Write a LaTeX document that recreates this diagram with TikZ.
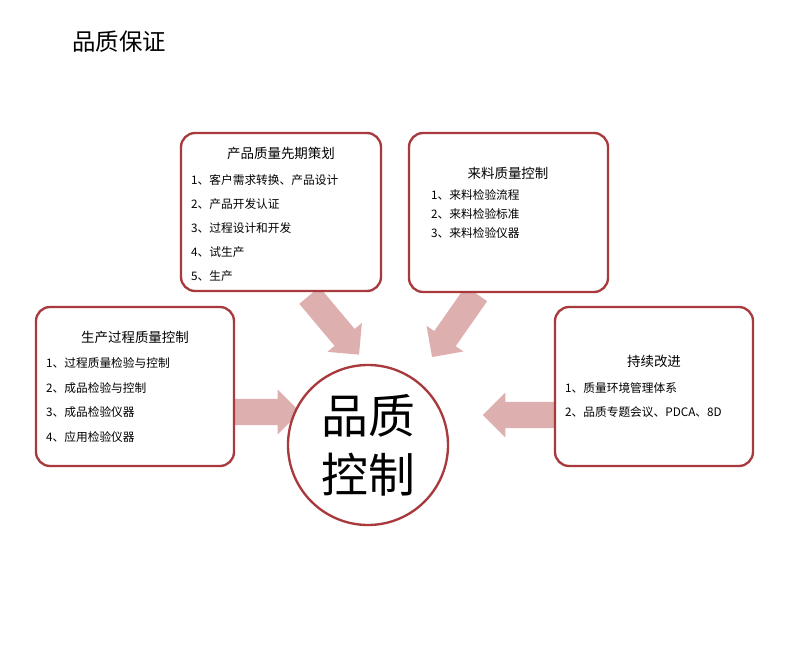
\documentclass[tikz,border=0pt]{standalone}
\usepackage{fontspec}
\setmainfont{Noto Sans CJK SC}
\usetikzlibrary{shapes.arrows}
\definecolor{BoxRed}{HTML}{A83A3E}
\definecolor{ArrowPink}{HTML}{DDAFAF}
\tikzset{
  infobox/.style={draw=BoxRed, line width=2pt, rounded corners=12pt, fill=white},
  boxtitle/.style={font=\fontsize{11.5}{13}\selectfont},
  boxitem/.style={anchor=west, font=\fontsize{10}{12}\selectfont},
  blockarrow/.style={single arrow, fill=ArrowPink, draw=none, minimum height=66pt, single arrow head extend=8pt, inner sep=11pt}
}
\begin{document}
\begin{tikzpicture}[x=0.03cm, y=-0.03cm]
  \useasboundingbox (0,0) rectangle (800,650);
  \node[anchor=west, font=\fontsize{20}{22}\selectfont] (title) at (68,42) {品质保证};

  % arrows first, boxes on top
  \node[blockarrow, rotate=-50] (arrowtl) at (330,320) {};
  \node[blockarrow, rotate=-125] (arrowtr) at (458,320) {};
  \node[blockarrow, rotate=0] (arrowl) at (255,412) {};
  \node[blockarrow, rotate=180] (arrowr) at (528,415) {};

  % planning
  \draw[infobox] (181,133) rectangle (381,291);
  \node[boxtitle] (plan) at (281,153) {产品质量先期策划};
  \node[boxitem] (plan1) at (187,180) {1、客户需求转换、产品设计};
  \node[boxitem] (plan2) at (187,204) {2、产品开发认证};
  \node[boxitem] (plan3) at (187,228) {3、过程设计和开发};
  \node[boxitem] (plan4) at (187,252) {4、试生产};
  \node[boxitem] (plan5) at (187,276) {5、生产};

  % incoming
  \draw[infobox] (409,133) rectangle (608,292);
  \node[boxtitle] (incoming) at (508,173) {来料质量控制};
  \node[boxitem] (incoming1) at (427,195) {1、来料检验流程};
  \node[boxitem] (incoming2) at (427,214) {2、来料检验标准};
  \node[boxitem] (incoming3) at (427,233) {3、来料检验仪器};

  % production
  \draw[infobox] (36,307) rectangle (234,466);
  \node[boxtitle] (process) at (135,337) {生产过程质量控制};
  \node[boxitem] (process1) at (42,363) {1、过程质量检验与控制};
  \node[boxitem] (process2) at (42,388) {2、成品检验与控制};
  \node[boxitem] (process3) at (42,412) {3、成品检验仪器};
  \node[boxitem] (process4) at (42,437) {4、应用检验仪器};

  % improvement
  \draw[infobox] (555,307) rectangle (753,466);
  \node[boxtitle] (improve) at (654,361) {持续改进};
  \node[boxitem] (improve1) at (561,388) {1、质量环境管理体系};
  \node[boxitem] (improve2) at (561,412) {2、品质专题会议、PDCA、8D};

  % centre
  \node[circle, draw=BoxRed, line width=2pt, fill=white, minimum size=160*0.03cm, align=center,
        font=\fontsize{40}{50}\selectfont] (core) at (368,445) {品质\\控制};
\end{tikzpicture}
\end{document}
